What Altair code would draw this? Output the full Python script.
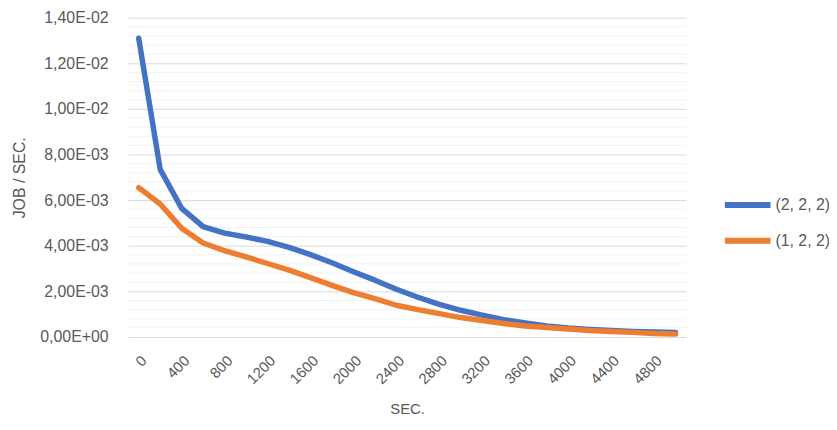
import altair as alt
import pandas as pd

seconds = [0, 200, 400, 600, 800, 1000, 1200, 1400, 1600, 1800, 2000, 2200, 2400,
           2600, 2800, 3000, 3200, 3400, 3600, 3800, 4000, 4200, 4400, 4600, 4800, 5000]
series_names = ["(2, 2, 2)", "(1, 2, 2)"]
s222 = [0.0131, 0.00735, 0.00564, 0.00484, 0.00455, 0.00438, 0.00419, 0.00393, 0.00361,
        0.00325, 0.00286, 0.00249, 0.00209, 0.00174, 0.00143, 0.00117, 0.00096, 0.00076,
        0.00061, 0.00048, 0.00039, 0.00033, 0.00028, 0.00024, 0.00022, 0.00020]
s122 = [0.00655, 0.00583, 0.00477, 0.00412, 0.00378, 0.00351, 0.00322, 0.00293, 0.00260,
        0.00226, 0.00194, 0.00168, 0.00139, 0.00120, 0.00102, 0.00085, 0.00072, 0.00059,
        0.00048, 0.00041, 0.00035, 0.00028, 0.00024, 0.00020, 0.00015, 0.00013]
x_ticks = [0, 400, 800, 1200, 1600, 2000, 2400, 2800, 3200, 3600, 4000, 4400, 4800]
y_ticks = [0, 0.002, 0.004, 0.006, 0.008, 0.010, 0.012, 0.014]
y_minor = [0.0004, 0.0008, 0.0012, 0.0016, 0.0024, 0.0028, 0.0032, 0.0036,
           0.0044, 0.0048, 0.0052, 0.0056, 0.0064, 0.0068, 0.0072, 0.0076,
           0.0084, 0.0088, 0.0092, 0.0096, 0.0104, 0.0108, 0.0112, 0.0116,
           0.0124, 0.0128, 0.0132, 0.0136]

rows = []
for name, vals in zip(series_names, [s222, s122]):
    for i, (s, v) in enumerate(zip(seconds, vals)):
        rows.append({"sec": s, "val": v, "series": name, "order": i})
df = pd.DataFrame(rows)
minor_df = pd.DataFrame({"val": y_minor})

FONT = "Liberation Sans"
GREY = "#595959"

xscale = alt.Scale(domain=[-100, 5100], nice=False, zero=False)
yscale = alt.Scale(domain=[0, 0.014], nice=False)

label_expr = ("datum.value == 0 ? '0,00E+00' : "
              "replace(replace(format(datum.value, '.2e'), '.', ','), 'e-', 'E-0')")

y_axis = alt.Axis(title="JOB / SEC.", values=y_ticks, labelExpr=label_expr,
                  ticks=False, domain=False, grid=True, gridColor="#D9D9D9",
                  gridWidth=1, labelPadding=20, titlePadding=12,
                  labelFontSize=16, titleFontSize=16, labelColor=GREY,
                  titleColor=GREY, labelFont=FONT, titleFont=FONT,
                  titleFontWeight="normal")

minor = alt.Chart(minor_df).mark_rule(color="#F2F2F2", strokeWidth=1).encode(
    y=alt.Y("val:Q", scale=yscale, axis=y_axis)
)

lines = alt.Chart(df).mark_line(strokeWidth=5.5, strokeCap="round", strokeJoin="round").encode(
    x=alt.X("sec:Q", scale=xscale,
            axis=alt.Axis(title="SEC.", values=x_ticks, format="d",
                          labelAngle=-45, labelAlign="right", labelBaseline="top",
                          ticks=False, domain=False, grid=False, labelPadding=16,
                          titlePadding=15,
                          labelFontSize=15, titleFontSize=15, labelColor=GREY,
                          titleColor=GREY, labelFont=FONT, titleFont=FONT,
                          titleFontWeight="normal", labelFlush=False)),
    y=alt.Y("val:Q", scale=yscale, axis=y_axis),
    color=alt.Color("series:N",
                    scale=alt.Scale(domain=series_names, range=["#4472C4", "#ED7D31"]),
                    legend=alt.Legend(title=None, orient="none", legendX=617, legendY=181,
                                      padding=0,
                                      symbolType="M-4.6,0H4.6", symbolSize=100,
                                      symbolStrokeWidth=6, labelFontSize=16,
                                      labelFont=FONT, labelColor=GREY, labelOffset=20,
                                      rowPadding=12)),
    order=alt.Order("order:Q"),
)

chart = alt.layer(minor, lines).properties(
    width=563, height=322,
    autosize=alt.AutoSizeParams(type="none"),
    padding={"left": 121, "top": 8, "right": 144, "bottom": 80},
).configure_view(stroke=None)

chart.save("out.html", embed_options={"renderer": "svg", "actions": False})
